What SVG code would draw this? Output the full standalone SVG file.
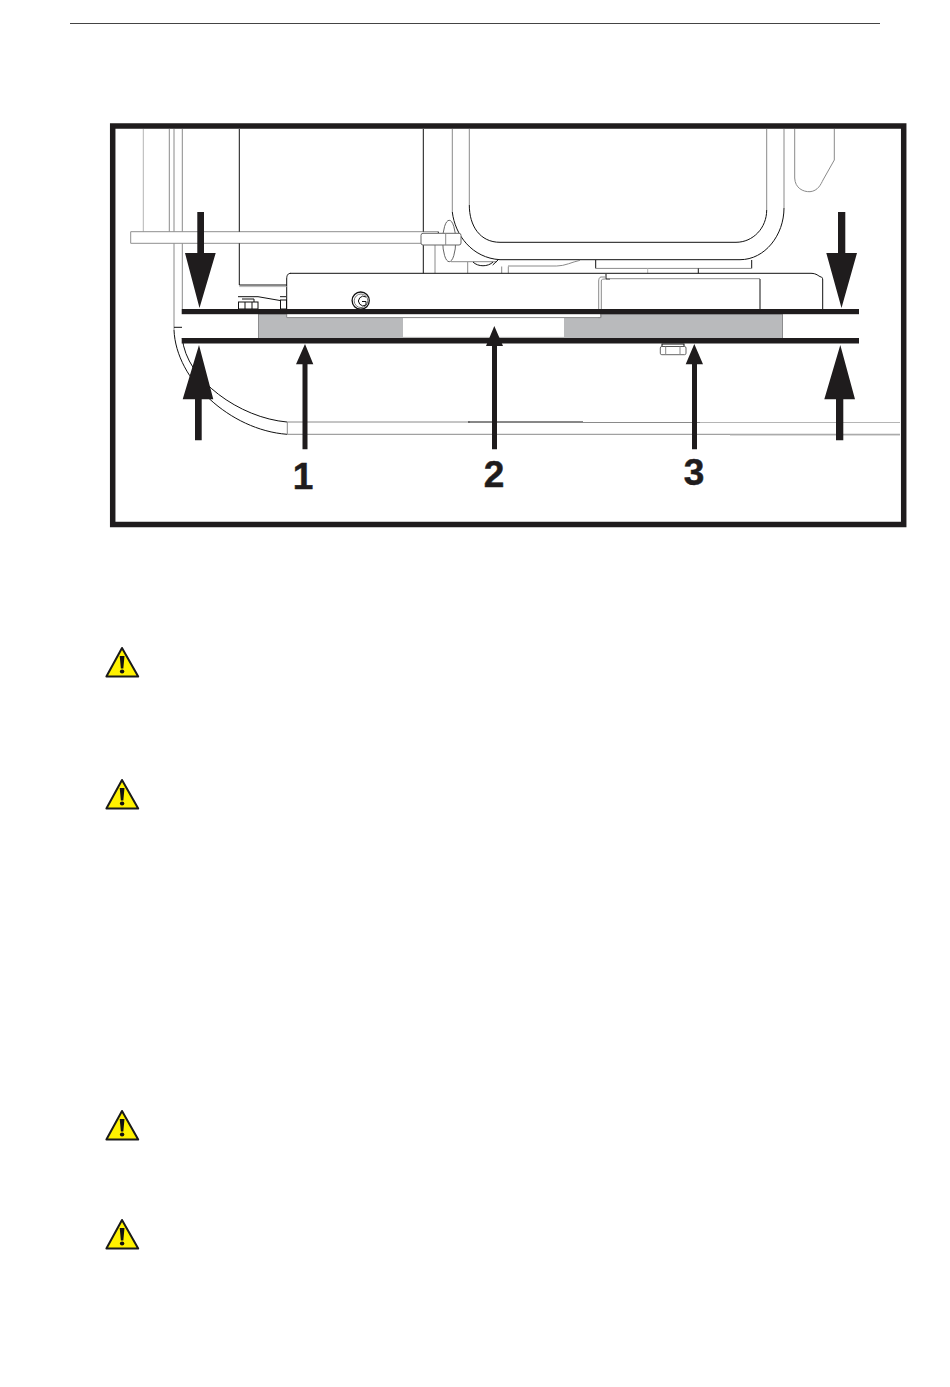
<svg xmlns="http://www.w3.org/2000/svg" xmlns:xlink="http://www.w3.org/1999/xlink" width="950" height="1387" viewBox="0 0 950 1387">
<style>
.k{fill:none;stroke:#111;stroke-width:1}
.g{fill:none;stroke:#8a8a8a;stroke-width:1}
.l{fill:none;stroke:#b5b5b5;stroke-width:1}
.a{fill:#1f1c1d}
.n{font-family:"Liberation Sans",Arial,sans-serif;font-weight:700;font-size:37px;fill:#1f1c1d;stroke:#1f1c1d;stroke-width:.5;text-anchor:middle}
</style>
<defs>
<g id="warn">
<path d="M16 2 L32.2 30.6 H0.4 Z" fill="#fff200" stroke="#1a1a1a" stroke-width="2" stroke-linejoin="round"/>
<path d="M13.7 10 H18.5 L17.3 22.6 H14.9 Z" fill="#111"/>
<ellipse cx="16.1" cy="25.6" rx="2.2" ry="2" fill="#111"/>
</g>
</defs>
<rect width="950" height="1387" fill="#fff"/>
<line x1="70" y1="23.5" x2="880" y2="23.5" stroke="#444" stroke-width="1"/>

<g id="drawing">
<rect id="pad" x="258.5" y="314" width="524" height="24.5" fill="#b9babc" stroke="#8c8c8e" stroke-width="1"/>
<rect id="pad-gap" x="403" y="318" width="161" height="20" fill="#fff"/>
<rect x="287" y="312" width="313" height="5.5" fill="#fff"/>
<path class="g" d="M287 317.6 H600"/>
<path class="l" d="M403 337.4 H564"/>

<g id="pipe">
<path class="l" d="M143.3 129 V232"/>
<path class="g" d="M169.3 129 V232"/>
<path class="g" d="M174 129 V232 M174 243 V330"/>
<path class="g" d="M182.3 129 V232 M182.3 243 V309"/>
<path class="k" d="M174 327.3 H182" stroke-width=".7"/>
<path class="k" stroke-width=".8" d="M174 330 C176 380 230 430 287 434.3"/>
<path class="k" stroke-width=".8" d="M182.3 338 C186 380 240 418 287 422"/>
<path class="g" d="M287.3 422 V434"/>
<path class="g" d="M287 422 H470"/>
<path class="k" d="M468 422 H583"/>
<path class="g" d="M583 422.5 H812"/>
<path class="l" d="M700 422.5 H900"/>
<path class="g" d="M287 434.3 H900"/>
<path class="l" d="M730 435 H900"/>
</g>

<g id="bar">
<path fill="#fff" stroke="#8f8f8f" d="M438.3 231.7 H130.7 V243.3 H421"/>
<path class="k" d="M438.3 231.7 V233.3"/>
<path class="k" d="M239.3 129 V231.7 M239.3 243.3 V285 M423.3 129 V231.7 M423.3 245 V273.3"/>
<path class="g" d="M435 245 V273.3"/>
</g>

<g id="frame">
<ellipse cx="449.2" cy="241" rx="6.5" ry="20.7" fill="#fff" stroke="#555" stroke-width=".9"/>
<path fill="#fff" d="M452.3 129 V215 C455 235 472 258 500 259.7 H740 C765 259.7 784 235 784 208 V129 Z"/>
<path class="g" d="M452.3 129 V212"/>
<path class="k" stroke-width=".9" d="M452.3 212 C455 235 472 258 500 259.7"/>
<path class="g" d="M469.3 129 V205"/>
<path class="k" stroke-width=".9" d="M469.3 205 C469.3 226 480 242.3 500 242.3"/>
<path class="k" d="M500 242.3 H736 C753 242.3 766.7 228 766.7 210"/>
<path class="g" d="M766.7 210 V129"/>
<path class="k" d="M500 259.7 H740 C765 259.7 784 235 784 208"/>
<path class="g" d="M784 208 V129"/>
<path class="g" d="M794.7 129 V178 C795 188 803 192 810 191.7 C818 191 821 184 823 180 L834.3 160 V129"/>
<rect x="421" y="233.3" width="40" height="11.7" rx="2" fill="#fff" stroke="#666" stroke-width="1"/>
<path class="g" d="M445.7 233.3 V245"/>
</g>

<g id="mount">
<path class="k" d="M595.7 260 V268.4 M751.7 260 V268.4"/>
<path class="g" d="M595.7 268.4 H751.7"/>
<path class="l" d="M647.7 268.4 V273.3"/>
<path class="k" d="M698.3 268.4 V273.3"/>
<path class="g" d="M451 261.7 H497 M508 266 H556.7 C565 266 572 262 580 260.3"/>
<path class="g" d="M501.7 266.5 V273.3 M508.3 266.5 V273.3 M467.7 262 V273.3"/>
<path class="k" d="M473 262 C478 267 488 267 493 262" stroke-width="1.2"/>
<path class="k" d="M492.7 265 L498 260" stroke-width=".8"/>
<path class="k" d="M290.5 273.3 H811"/>
<path class="k" d="M286.7 309 V279 C286.7 275 288 273.3 291 273.3"/>
<path class="g" d="M286.7 314 V317.6"/>
<path class="k" d="M811 273.3 C817 273.5 818 276 821 277"/>
<path class="k" stroke-width="1.3" d="M822.7 309 V280 C822.7 278 822 277 821 277"/>
<path class="g" d="M610 278.7 H760"/>
<path class="k" d="M760 279 V309"/>
<path class="k" d="M606 274 V279 H610" stroke-width=".8"/>
<path class="g" d="M606 277 H601 C599.5 277 598.7 279 598.7 281 V309 M601.3 309 V281 C601.3 279 603 279 606 279"/>
<path class="g" d="M601 314 V317.6 H598"/>
</g>

<g id="feet">
<path class="k" d="M239.3 285 H286.7"/>
<path class="l" d="M239.3 286.6 H286.7"/>
<path class="k" stroke-width="1.5" d="M238 296.7 H258 L280 300.5 M280 296.7 H286"/>
<rect class="k" x="238.5" y="302" width="19.5" height="7"/>
<path class="k" d="M245 302 V309 M252 302 V309 M242 299 H254 V302"/>
<rect class="k" x="280.5" y="300" width="6" height="9"/>
</g>

<g id="bolt">
<circle cx="360.7" cy="300.6" r="8.6" fill="#fff" stroke="#111" stroke-width="1.3"/>
<circle cx="361" cy="300.8" r="6.8" fill="none" stroke="#777" stroke-width="1"/>
<path class="k" stroke-width="1.5" d="M366 297 A4.8 4.8 0 1 0 366 305 V301.5 H362"/>
</g>

<g id="nut">
<rect class="k" x="662" y="344" width="22" height="2.5" stroke="#444"/>
<rect x="660.3" y="346.5" width="25.7" height="8.2" rx="1.5" fill="#fff" stroke="#555" stroke-width=".9"/>
<path class="g" d="M665.7 346.5 V354.7 M680 346.5 V354.7"/>
</g>

<g id="gauges">
<rect x="181.7" y="309" width="677.3" height="5.2" class="a"/>
<rect x="181.7" y="338" width="677.3" height="5.5" class="a"/>
</g>
</g>

<rect id="border" x="112.7" y="126" width="791" height="398.5" fill="none" stroke="#1f1c1d" stroke-width="5.5"/>

<g id="connectors">
<path class="a" d="M197.3 212 H204 V253 H215.7 L199.5 308 L185 253 H197.3 Z"/>
<path class="a" d="M838 212 H845.3 V253 H857 L841.5 308 L826.3 253 H838 Z"/>
<path class="a" d="M195 440.3 H201.7 V399.3 H213.3 L199 345 L182.7 399.3 H195 Z"/>
<path class="a" d="M836 440.3 H843.3 V399.3 H855 L840.3 345 L824.3 399.3 H836 Z"/>
<path class="a" d="M302.5 449.3 H307.5 V364.3 H313.3 L305 344 L296 364.3 H302.5 Z"/>
<path class="a" d="M492 449.3 H497 V346 H503 L494.3 326 L486 346 H492 Z"/>
<path class="a" d="M692 449.3 H697 V364.3 H703 L694.3 344 L685.7 364.3 H692 Z"/>
</g>

<g id="label-1"><text class="n" x="303" y="489">1</text></g>
<g id="label-2"><text class="n" x="494" y="487">2</text></g>
<g id="label-3"><text class="n" x="694" y="485">3</text></g>

<g id="warning-1"><use xlink:href="#warn" href="#warn" x="106" y="646"/></g>
<g id="warning-2"><use xlink:href="#warn" href="#warn" x="106" y="778"/></g>
<g id="warning-3"><use xlink:href="#warn" href="#warn" x="106" y="1109"/></g>
<g id="warning-4"><use xlink:href="#warn" href="#warn" x="106" y="1218"/></g>
</svg>
